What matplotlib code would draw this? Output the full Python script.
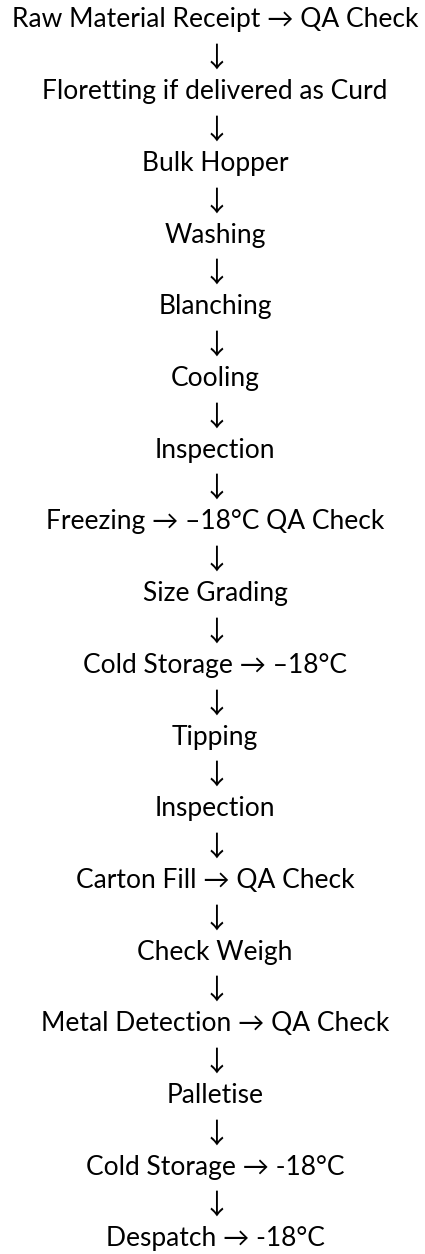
import matplotlib
matplotlib.use("Agg")
from matplotlib import pyplot as plt

steps = ["Raw Material Receipt \u2192 QA Check",
         "Floretting if delivered as Curd",
         "Bulk Hopper",
         "Washing",
         "Blanching",
         "Cooling",
         "Inspection",
         "Freezing \u2192 \u201318\u00b0C QA Check",
         "Size Grading",
         "Cold Storage \u2192 \u201318\u00b0C",
         "Tipping",
         "Inspection",
         "Carton Fill \u2192 QA Check",
         "Check Weigh",
         "Metal Detection \u2192 QA Check",
         "Palletise",
         "Cold Storage \u2192 -18\u00b0C",
         "Despatch \u2192 -18\u00b0C"]

fig = plt.figure(figsize=(4.25, 12.54), dpi=100)
ax = fig.add_axes([0, 0, 1, 1])
ax.set_xlim(0, 425)
ax.set_ylim(1254, 0)
ax.axis("off")

top = 20
gap = 71.7
fam = ["Lato", "DejaVu Sans"]
for i, s in enumerate(steps):
    y = top + i * gap
    ax.text(215, y, s, ha="center", va="center", fontsize=19, family=fam)
    if i < len(steps) - 1:
        ax.text(216, y + gap / 2 + 3, "\u2193", ha="center", va="center",
                fontsize=20, family=["Noto Sans CJK JP", "DejaVu Sans"])

fig.savefig("out.png", dpi=100, facecolor="white")
